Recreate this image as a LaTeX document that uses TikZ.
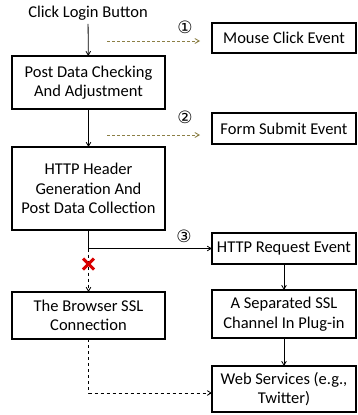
\documentclass[tikz,border=0pt]{standalone}
\usepackage{fontspec}
\setmainfont{Carlito}
\newfontfamily\circfont{DejaVu Sans}
\usetikzlibrary{arrows,positioning,shapes.misc}
\definecolor{hintcol}{RGB}{140,128,70}

\begin{document}
\begin{tikzpicture}[x=1pt,y=1pt,>=angle 60,line width=0.8pt,
                    font=\fontsize{16.5}{19.5}\selectfont]
  \tikzstyle{box}=[draw,line width=1.2pt,align=center,inner sep=2pt,outer sep=0pt]
  \tikzstyle{stage}=[box,minimum width=153pt]
  \tikzstyle{event}=[box,minimum width=144pt]
  \tikzstyle{hint}=[->,dash pattern=on 3pt off 2pt,draw=hintcol,line width=0.9pt]
  \tikzstyle{num}=[font=\circfont\fontsize{17}{17}\selectfont,inner sep=0pt]
  \tikzstyle{nogo}=[cross out,draw=red!85!black,line width=3pt,minimum size=8pt,inner sep=0pt]
  \useasboundingbox (0,0) rectangle (358,-415);

  % left column: what the browser does
  \node         (click)                                 at (88,-13)     {Click Login Button};
  \node[stage,minimum height=53pt] (check)              at (88.5,-82.5) {Post Data Checking\\And Adjustment};
  \node[stage,minimum height=83pt] (header) [below=38pt of check]  {HTTP Header\\Generation And\\Post Data Collection};
  \node[stage,minimum height=47pt] (ssl)    [below=62pt of header] {The Browser SSL\\Connection};

  % right column: events seen by the plug-in
  \node[event,minimum height=30pt] (mouse)              at (284,-38)    {Mouse Click Event};
  \node[event,minimum height=31pt] (form)    [below=60pt of mouse]   {Form Submit Event};
  \node[event,minimum height=31pt] (request) [below=89pt of form]    {HTTP Request Event};
  \node[event,minimum height=48pt] (sep)     [below=26pt of request] {A Separated SSL\\Channel In Plug-in};
  \node[event,minimum height=46pt] (web)     [below=28pt of sep]     {Web Services (e.g.,\\Twitter)};

  \node[num] (n1) at (185,-27)  {①};
  \node[num] (n2) at (185,-117) {②};
  \node[num] (n3) at (184,-236) {③};

  \coordinate (h1s) at (107,-41);
  \coordinate (h1e) at (200,-41);
  \coordinate (h2s) at (107,-135);
  \coordinate (h2e) at (200,-135);
  \coordinate (split) at (header.south |- request.west);

  \draw[->] (click) -- (check);
  \draw[->] (check) -- (header);
  \draw[->] (header.south) |- (request.west);
  \draw[->,dashed] (split) -- (ssl.north);
  \draw[->,dashed] (ssl.south) |- ([yshift=-4pt]web.west);
  \draw[->] (request) -- (sep);
  \draw[->] (sep) -- (web);
  \draw[hint] (h1s) -- (h1e);
  \draw[hint] (h2s) -- (h2e);

  \node[nogo] (cut) [below=10pt of split] {};
\end{tikzpicture}
\end{document}
